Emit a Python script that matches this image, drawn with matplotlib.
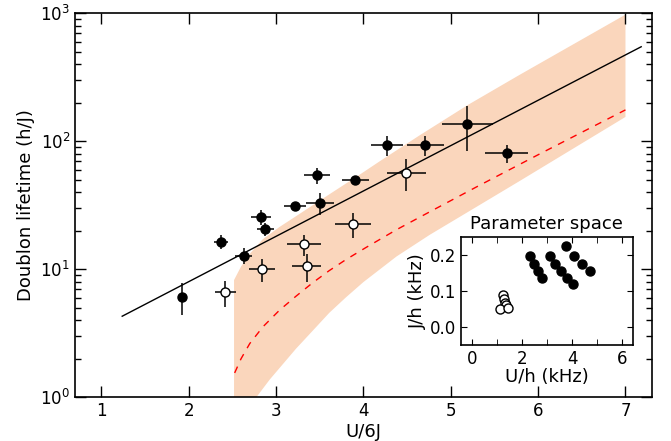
import numpy as np
import matplotlib
matplotlib.use('Agg')
import matplotlib.pyplot as plt
from matplotlib.ticker import MultipleLocator

# measured lifetimes, filled = deep lattice, open = shallow lattice
x_filled = [1.93, 2.37, 2.63, 2.83, 2.88, 3.22, 3.47, 3.50, 3.91, 4.27, 4.71, 5.19, 5.64]
y_filled = [6.1, 16.4, 12.8, 25.5, 20.5, 31.2, 54.2, 33.1, 49.9, 93.6, 93.6, 136.5, 80.5]
xerr_filled = [0.04, 0.084, 0.10, 0.115, 0.10, 0.125, 0.15, 0.16, 0.16, 0.18, 0.215, 0.29, 0.245]
yerr_filled = [1.7, 2.1, 1.85, 3.4, 2.3, 2.0, 7.8, 6.5, 3.7, 16.5, 16.5, 52, 12.5]

x_open = [2.42, 2.84, 3.32, 3.35, 3.88, 4.49]
y_open = [6.6, 10.0, 15.7, 10.6, 22.7, 56.9]
xerr_open = [0.12, 0.15, 0.19, 0.17, 0.21, 0.225]
yerr_open = [1.5, 2.0, 2.9, 2.6, 5.0, 16.0]

# exponential fit (straight on log axis)
fit_x = [1.24, 7.18]
fit_y = [4.3, 548]

# theory curve and its uncertainty band
theory_x = [2.527, 2.6, 2.7, 2.85, 3.04, 3.23, 3.42, 3.61, 3.8, 4.03, 4.38, 4.72, 5.3, 6.0, 7.0]
theory_y = [1.55, 2.0, 2.63, 3.55, 4.79, 6.17, 7.85, 9.77, 11.9, 14.8, 20.4, 27.2, 44.2, 78.5, 176]

band_up_x = [2.52, 2.60, 2.70, 2.85, 3.04, 3.23, 3.61, 3.96, 4.19, 4.65, 5.2, 5.79, 7.0]
band_up_y = [8.24, 10.5, 13.2, 17.2, 21.4, 26.0, 38.5, 55, 70, 112, 193, 331, 977]
band_lo_x = [2.52, 2.775, 2.93, 3.23, 3.42, 3.61, 3.8, 4.0, 4.38, 4.76, 5.3, 5.79, 7.0]
band_lo_y = [1.0, 1.0, 1.38, 2.4, 3.31, 4.57, 6.03, 7.94, 12.6, 18.6, 30.9, 49, 155]

# parameter space inset
U_filled = [2.31, 2.48, 2.65, 2.81, 3.11, 3.32, 3.57, 3.81, 4.04, 3.77, 4.08, 4.40, 4.72]
J_filled = [0.199, 0.175, 0.155, 0.137, 0.199, 0.175, 0.155, 0.137, 0.121, 0.226, 0.199, 0.175, 0.155]
U_open = [1.24, 1.28, 1.31, 1.34, 1.11, 1.44]
J_open = [0.088, 0.077, 0.067, 0.060, 0.049, 0.054]

band_color = '#fad6bc'

fig = plt.figure(figsize=(6.71, 4.41), dpi=100)
ax = fig.add_axes([0.1118, 0.0991, 0.8594, 0.8707])

# band polygon: upper edge left->right, lower edge right->left
poly_x = list(band_up_x) + list(band_lo_x[::-1])
poly_y = list(band_up_y) + list(band_lo_y[::-1])
ax.fill(poly_x, poly_y, color=band_color, lw=0, zorder=1)

ax.plot(theory_x, theory_y, color='red', ls=(0, (5, 5)), lw=1, zorder=2)
ax.plot(fit_x, fit_y, color='black', lw=1, zorder=3)

ax.errorbar(x_filled, y_filled, xerr=xerr_filled, yerr=yerr_filled, fmt='o',
            color='black', mfc='black', mec='black', ms=6.5, elinewidth=1.1,
            capsize=0, zorder=4)
ax.errorbar(x_open, y_open, xerr=xerr_open, yerr=yerr_open, fmt='o',
            color='black', mfc='white', mec='black', ms=6.5, elinewidth=1.1,
            capsize=0, zorder=4)

ax.set_yscale('log')
ax.set_xlim(0.7, 7.3)
ax.set_ylim(1, 1000)
ax.set_xticks([1, 2, 3, 4, 5, 6, 7])
ax.tick_params(which='both', direction='in', top=True, right=True, labelsize=12)
ax.tick_params(which='major', length=8, width=1)
ax.tick_params(which='minor', length=4.5, width=1)
ax.set_xlabel('U/6J', fontsize=13, labelpad=2)
ax.set_ylabel('Doublon lifetime (h/J)', fontsize=13)
for s in ax.spines.values():
    s.set_linewidth(1.2)

# inset
axi = fig.add_axes([0.687, 0.218, 0.256, 0.2435])
axi.plot(U_filled, J_filled, 'o', color='black', ms=6.5)
axi.plot(U_open, J_open, 'o', mfc='white', mec='black', ms=6.5)
axi.set_xlim(-0.45, 6.43)
axi.set_ylim(-0.05, 0.25)
axi.set_xticks([0, 2, 4, 6])
axi.xaxis.set_minor_locator(MultipleLocator(1))
axi.set_yticks([0.0, 0.1, 0.2])
axi.tick_params(which='both', direction='in', top=True, right=True, labelsize=12, length=4.5)
axi.set_xlabel('U/h (kHz)', fontsize=13, labelpad=0)
axi.set_ylabel('J/h (kHz)', fontsize=13, labelpad=2)
axi.set_title('Parameter space', fontsize=13, pad=6)
for s in axi.spines.values():
    s.set_linewidth(1.2)

fig.savefig('out.png', dpi=100)
